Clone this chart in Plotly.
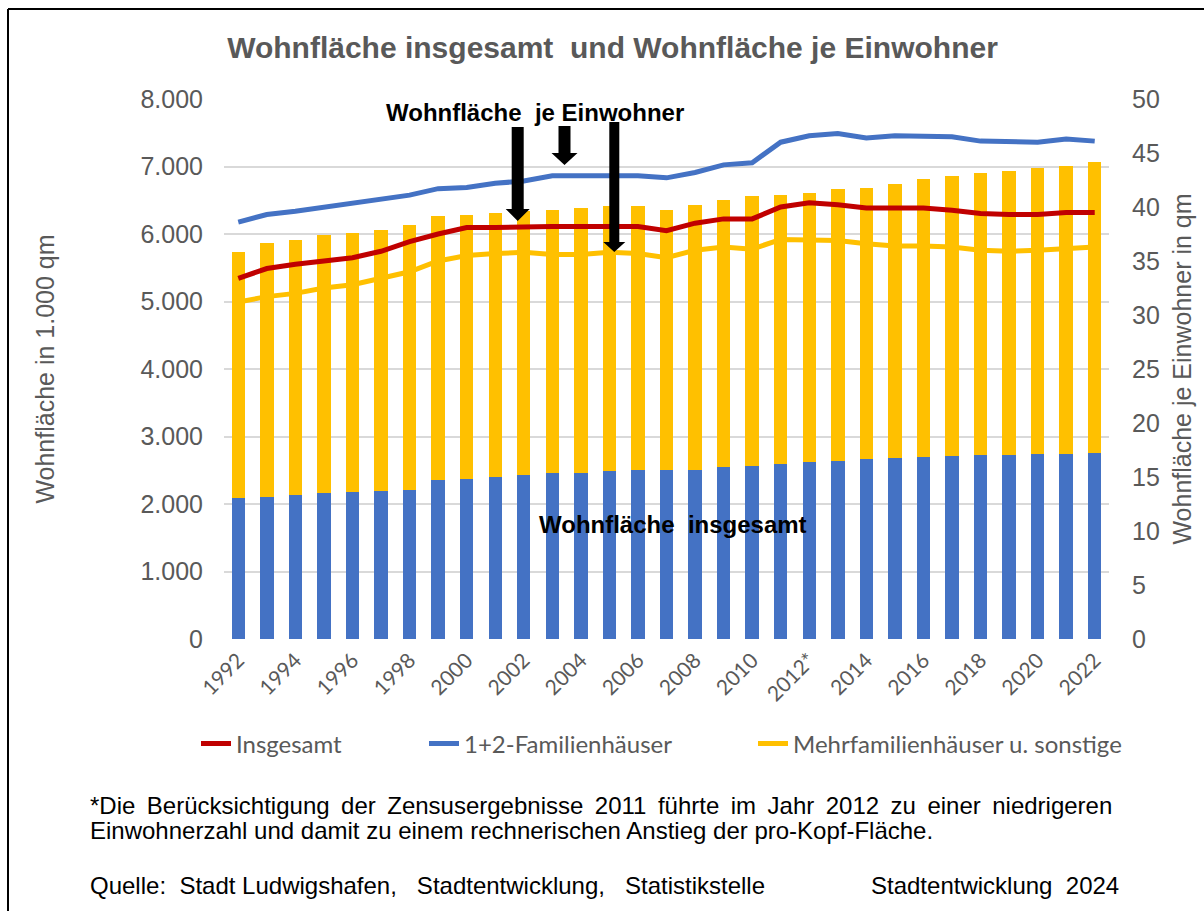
import plotly.graph_objects as go

# ---------------- data ----------------
years = ["1992", "1993", "1994", "1995", "1996", "1997", "1998", "1999", "2000", "2001",
         "2002", "2003", "2004", "2005", "2006", "2007", "2008", "2009", "2010", "2011",
         "2012*", "2013", "2014", "2015", "2016", "2017", "2018", "2019", "2020", "2021", "2022"]

# Wohnfläche in 1.000 qm (stacked bars)
area_efh = [2090, 2110, 2130, 2160, 2175, 2190, 2210, 2360, 2375, 2400,
            2425, 2455, 2465, 2490, 2510, 2500, 2510, 2550, 2565, 2590,
            2615, 2640, 2660, 2675, 2690, 2705, 2720, 2720, 2735, 2735, 2755]
area_mfh = [3650, 3750, 3780, 3830, 3840, 3870, 3925, 3900, 3910, 3915,
            3915, 3905, 3925, 3920, 3900, 3860, 3920, 3960, 3995, 3995,
            3995, 4025, 4025, 4065, 4120, 4155, 4190, 4215, 4250, 4275, 4310]

# Wohnfläche je Einwohner in qm (lines)
pc_total = [33.4, 34.3, 34.7, 35.0, 35.3, 35.9, 36.8, 37.5, 38.1, 38.1,
            38.2, 38.2, 38.2, 38.2, 38.2, 37.8, 38.5, 38.9, 38.9, 40.0,
            40.4, 40.2, 39.9, 39.9, 39.9, 39.7, 39.4, 39.3, 39.3, 39.5, 39.5]
pc_efh = [38.6, 39.3, 39.6, 40.0, 40.4, 40.8, 41.1, 41.7, 41.8, 42.2,
          42.4, 42.9, 42.9, 42.9, 42.9, 42.7, 43.2, 43.9, 44.1, 46.0,
          46.6, 46.8, 46.4, 46.6, 46.5, 46.5, 46.1, 46.1, 46.0, 46.3, 46.1]
pc_mfh = [31.2, 31.7, 32.0, 32.5, 32.8, 33.4, 34.0, 35.0, 35.5, 35.7,
          35.8, 35.6, 35.6, 35.8, 35.7, 35.3, 36.0, 36.3, 36.1, 37.0,
          37.0, 36.9, 36.6, 36.4, 36.4, 36.3, 36.0, 35.9, 36.0, 36.2, 36.3]

left_ticks = [0, 1000, 2000, 3000, 4000, 5000, 6000, 7000, 8000]
right_ticks = [0, 5, 10, 15, 20, 25, 30, 35, 40, 45, 50]

# ---------------- layout helpers ----------------
W, H = 1204, 911
ML, MR, MT, MB = 224, 95, 99, 272
PW, PH = W - ML - MR, H - MT - MB

def px(x):
    return (x - ML) / PW

def py(y):
    return (H - MB - y) / PH

BLUE, YELLOW, RED = "#4472C4", "#FFC000", "#C00000"
GREY = "#595959"
ARIAL = "Liberation Sans, Arial, sans-serif"
CALIBRI = "Lato, Carlito, Calibri, sans-serif"
NB = "\u00a0"
TH = "\u2009"

fig = go.Figure()
fig.add_bar(x=years, y=area_efh, marker=dict(color=BLUE, line=dict(width=0)),
            showlegend=False, name="1+2-Familienhäuser (Fläche)")
fig.add_bar(x=years, y=area_mfh, marker=dict(color=YELLOW, line=dict(width=0)),
            showlegend=False, name="Mehrfamilienhäuser (Fläche)")
fig.add_scatter(x=years, y=pc_mfh, yaxis="y2", mode="lines",
                line=dict(color=YELLOW, width=5), name="Mehrfamilienhäuser u. sonstige",
                legend="legend3")
fig.add_scatter(x=years, y=pc_efh, yaxis="y2", mode="lines",
                line=dict(color=BLUE, width=5), name="1+2-Familienhäuser",
                legend="legend2")
fig.add_scatter(x=years, y=pc_total, yaxis="y2", mode="lines",
                line=dict(color=RED, width=5), name="Insgesamt",
                legend="legend")

legend_common = dict(orientation="h", yanchor="middle", xanchor="left",
                     font=dict(family=CALIBRI, size=24, color=GREY),
                     bgcolor="rgba(0,0,0,0)", borderwidth=0)

def arrow(cx, top, base, tip, shaft_half, head_half):
    path = (f"M {px(cx - shaft_half)},{py(top)} L {px(cx + shaft_half)},{py(top)} "
            f"L {px(cx + shaft_half)},{py(base)} L {px(cx + head_half)},{py(base)} "
            f"L {px(cx)},{py(tip)} L {px(cx - head_half)},{py(base)} "
            f"L {px(cx - shaft_half)},{py(base)} Z")
    return dict(type="path", xref="paper", yref="paper", path=path,
                fillcolor="black", line=dict(width=0), layer="above")

shapes = [
    arrow(517.7, 127, 209, 221, 6, 12),
    arrow(564.5, 126, 153, 165, 6, 13),
    arrow(614.3, 122, 242, 252, 5, 11),
    dict(type="line", xref="paper", yref="paper", x0=px(8), x1=px(1206), y0=py(9), y1=py(9),
         line=dict(color="black", width=2)),
    dict(type="line", xref="paper", yref="paper", x0=px(8), x1=px(8), y0=py(9), y1=py(915),
         line=dict(color="black", width=2)),
]

line1 = "*Die Berücksichtigung der Zensusergebnisse 2011 führte im Jahr 2012 zu einer niedrigeren"
line1 = line1.replace(" ", " " + TH)

annotations = [
    dict(text="<b>Wohnfläche" + NB + " je Einwohner</b>", xref="paper", yref="paper",
         x=px(534.5), y=py(113), xanchor="center", yanchor="middle", showarrow=False,
         font=dict(family=ARIAL, size=24, color="black")),
    dict(text="<b>Wohnfläche" + NB + " insgesamt</b>", xref="paper", yref="paper",
         x=px(672.5), y=py(524), xanchor="center", yanchor="middle", showarrow=False,
         font=dict(family=ARIAL, size=24, color="black")),
    dict(text=line1,
         xref="paper", yref="paper", x=px(88), y=py(805), xanchor="left", yanchor="middle",
         showarrow=False, font=dict(family=ARIAL, size=24, color="black")),
    dict(text="Einwohnerzahl und damit zu einem rechnerischen Anstieg der pro-Kopf-Fläche.",
         xref="paper", yref="paper", x=px(88), y=py(830), xanchor="left", yanchor="middle",
         showarrow=False, font=dict(family=ARIAL, size=24, color="black")),
    dict(text="Quelle:" + NB + " Stadt Ludwigshafen," + NB + NB + " Stadtentwicklung," + NB + NB
         + " Statistikstelle",
         xref="paper", yref="paper", x=px(88), y=py(885), xanchor="left", yanchor="middle",
         showarrow=False, font=dict(family=ARIAL, size=24, color="black")),
    dict(text="Stadtentwicklung" + NB + " 2024",
         xref="paper", yref="paper", x=px(869), y=py(885), xanchor="left", yanchor="middle",
         showarrow=False, font=dict(family=ARIAL, size=24, color="black")),
]

fig.update_layout(
    width=W, height=H,
    margin=dict(l=ML, r=MR, t=MT, b=MB, autoexpand=False),
    paper_bgcolor="white", plot_bgcolor="white",
    separators=",.",
    barmode="stack", bargap=0.53,
    title=dict(text="<b>Wohnfläche insgesamt" + NB + " und Wohnfläche je Einwohner</b>",
               xref="container", yref="container", x=612.5 / W, y=1 - 47 / H,
               xanchor="center", yanchor="middle",
               font=dict(family=ARIAL, size=30, color=GREY)),
    xaxis=dict(type="category", range=[-0.5, len(years) - 0.5],
               tickmode="array", tickvals=years[::2], ticktext=years[::2],
               tickangle=-45, tickfont=dict(family=CALIBRI, size=21, color=GREY),
               showgrid=False, showline=False, zeroline=False, ticks="",
               ticklabelstandoff=4),
    yaxis=dict(range=[0, 8000], tickmode="array", tickvals=left_ticks, tickformat=",d",
               tickfont=dict(family=ARIAL, size=25, color=GREY),
               showgrid=True, gridcolor="#D9D9D9", gridwidth=2, zeroline=False,
               showline=False, ticks="", ticklabelstandoff=20,
               title=dict(text="Wohnfläche in 1.000 qm", standoff=78,
                          font=dict(family=ARIAL, size=25, color=GREY))),
    yaxis2=dict(range=[0, 50], overlaying="y", side="right", tickmode="array",
                tickvals=right_ticks, tickfont=dict(family=ARIAL, size=25, color=GREY),
                showgrid=False, zeroline=False, showline=False, ticks="",
                ticklabelstandoff=22,
                title=dict(text="Wohnfläche je Einwohner in qm", standoff=14,
                           font=dict(family=ARIAL, size=25, color=GREY))),
    legend=dict(legend_common, x=px(196), y=py(744)),
    legend2=dict(legend_common, x=px(424), y=py(744)),
    legend3=dict(legend_common, x=px(753), y=py(744)),
    shapes=shapes,
    annotations=annotations,
)

fig.write_html("out.html", config={"displayModeBar": False},
               post_script="document.body.style.margin='0px';document.body.style.overflow='hidden';")
